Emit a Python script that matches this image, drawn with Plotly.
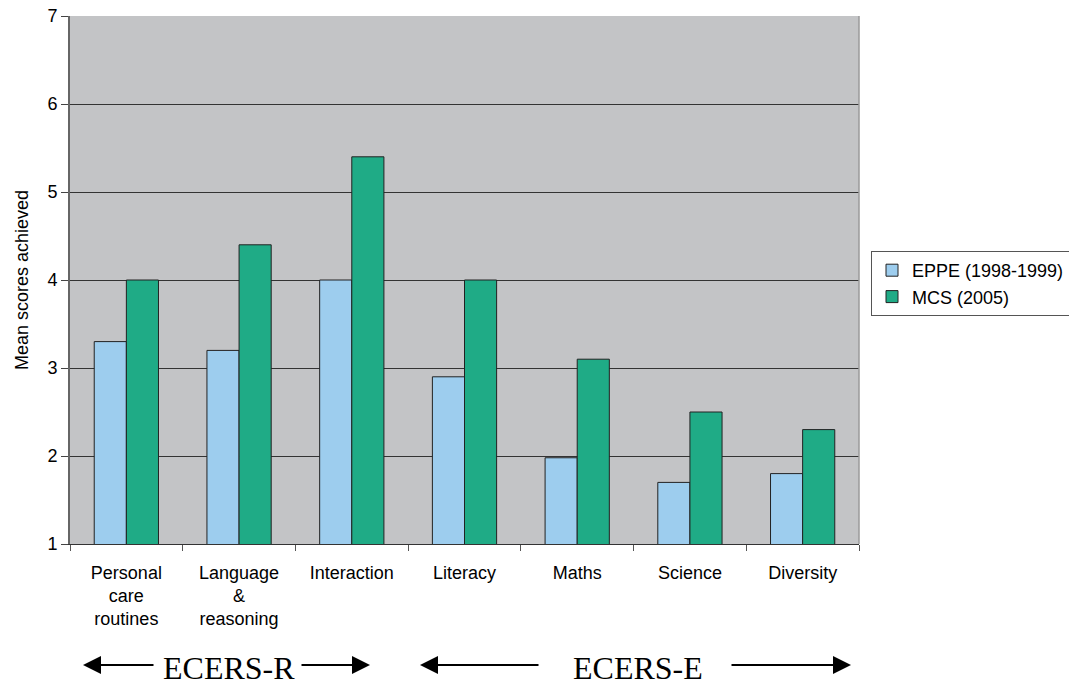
import plotly.graph_objects as go

# Environment rating subscales and the mean scores for the two studies
categories = [
    "Personal<br>care<br>routines",
    "Language<br>&<br>reasoning",
    "Interaction",
    "Literacy",
    "Maths",
    "Science",
    "Diversity",
]
eppe_scores = [3.3, 3.2, 4.0, 2.9, 1.98, 1.7, 1.8]
mcs_scores = [4.0, 4.4, 5.4, 4.0, 3.1, 2.5, 2.3]
series_names = ["EPPE (1998-1999)", "MCS (2005)"]
y_ticks = [1, 2, 3, 4, 5, 6, 7]

W, H = 1069, 687
M_L, M_R, M_T, M_B = 70, 210, 16, 143
PW, PH = W - M_L - M_R, H - M_T - M_B


def px_x(px):
    return (px - M_L) / PW


def px_y(py):
    return (H - M_B - py) / PH


fig = go.Figure()
fig.add_trace(go.Bar(
    x=categories, y=eppe_scores, name=series_names[0],
    marker=dict(color="#9DCDEE", line=dict(color="#222222", width=1)),
))
fig.add_trace(go.Bar(
    x=categories, y=mcs_scores, name=series_names[1],
    marker=dict(color="#1FAB86", line=dict(color="#222222", width=1)),
))

font_sans = "Liberation Sans, Arial, sans-serif"
font_serif = "Liberation Serif, Times New Roman, serif"

fig.update_layout(
    width=W, height=H,
    margin=dict(l=M_L, r=M_R, t=M_T, b=M_B, autoexpand=False),
    paper_bgcolor="white",
    plot_bgcolor="#C3C4C6",
    barmode="group",
    bargap=0.43,
    bargroupgap=0,
    font=dict(family=font_sans, size=18, color="black"),
    showlegend=True,
    legend=dict(
        x=px_x(871), y=px_y(251), xanchor="left", yanchor="top",
        bgcolor="white", bordercolor="#555555", borderwidth=1,
        font=dict(size=18), itemwidth=30, tracegroupgap=0,
    ),
    xaxis=dict(
        showgrid=False, ticks="outside", tickson="boundaries", ticklen=6,
        tickcolor="#555555", showline=True, linecolor="#333333", linewidth=1,
        tickfont=dict(size=18), ticklabelstandoff=12,
    ),
    yaxis=dict(
        range=[1, 7], tickvals=y_ticks, ticks="outside", ticklen=7,
        tickcolor="#444444", showline=True, linecolor="#666666", linewidth=2,
        showgrid=True, gridcolor="#333333", gridwidth=1.4, zeroline=False,
        tickfont=dict(size=18),
        title=dict(text="Mean scores achieved", font=dict(size=18), standoff=14),
    ),
)

# right-hand border of the plotting area
fig.add_shape(type="line", xref="paper", yref="paper", x0=1, x1=1, y0=0, y1=1,
              line=dict(color="#9A9A9A", width=1.5))

# group labels beneath the categories, with arrows spanning each scale
arrow_y = px_y(665)
groups = [
    ("ECERS-R", 229, [(83, 72), (370, -70)]),
    ("ECERS-E", 638, [(420, 120), (851, -121)]),
]
for label, cx, arrows in groups:
    fig.add_annotation(
        x=px_x(cx), y=px_y(668), xref="paper", yref="paper",
        xanchor="center", yanchor="middle",
        text=label, showarrow=False,
        font=dict(family=font_serif, size=32, color="black"),
    )
    for tip, tail in arrows:
        fig.add_annotation(
            x=px_x(tip), y=arrow_y, xref="paper", yref="paper",
            ax=tail, ay=0, axref="pixel", ayref="pixel",
            text="", showarrow=True, arrowhead=2, arrowsize=1.8,
            arrowwidth=2, arrowcolor="black", standoff=0,
        )

fig.write_html("out.html")
